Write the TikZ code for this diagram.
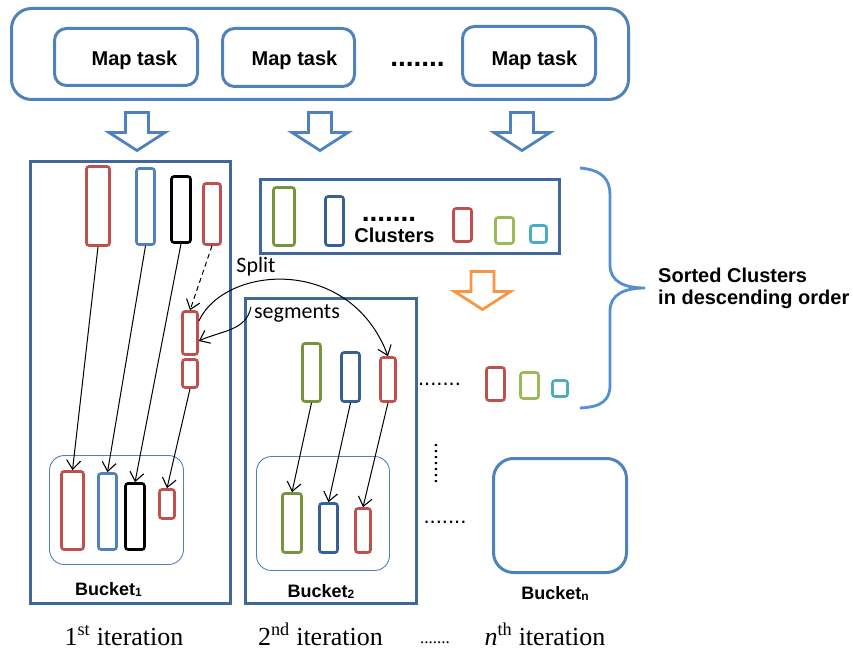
\documentclass[tikz,border=0pt]{standalone}
\usepackage{fontspec}
\setmainfont{Liberation Serif}
\newfontfamily\arial{Liberation Sans}
\newfontfamily\calib{Carlito}
\usetikzlibrary{arrows.meta}
\definecolor{mblue}{RGB}{79,129,189}
\definecolor{bktblue}{RGB}{65,104,155}
\definecolor{dblue}{RGB}{55,96,146}
\definecolor{cred}{RGB}{192,80,77}
\definecolor{olive}{RGB}{119,147,60}
\definecolor{lgreen}{RGB}{155,187,89}
\definecolor{ccyan}{RGB}{75,172,198}
\definecolor{corange}{RGB}{247,150,70}
\definecolor{brblue}{RGB}{85,142,213}
\newcommand\rr[6]{\node[cr=#2, minimum width=#5pt, minimum height=#6pt] (#1) at (#3,#4) {};}
\newcommand\bx[6]{\node[#2, minimum width=#5pt, minimum height=#6pt] (#1) at (#3,#4) {};}
\newcommand\sub[1]{{\fontsize{12}{12}\selectfont\raisebox{-1.5pt}{#1}}}
\begin{document}
\begin{tikzpicture}[x=1pt,y=-1pt,
  cr/.style={draw=#1,line width=2.6pt,rounded corners=2.5pt,inner sep=0pt,fill=white},
  bigbox/.style={draw=bktblue,line width=2.8pt,inner sep=0pt},
  topbox/.style={draw=mblue,line width=3pt,inner sep=0pt,rounded corners=#1},
  thinbox/.style={draw=mblue,line width=0.9pt,inner sep=0pt,rounded corners=15pt},
  ar/.style={-{Straight Barb[length=9pt,width=14pt,line width=1.1pt]},line width=1pt},
  lbl/.style={font=\arial\bfseries\fontsize{20}{24}\selectfont,inner sep=0pt,anchor=base},
  blbl/.style={font=\arial\bfseries\fontsize{18}{22}\selectfont,inner sep=0pt,anchor=base},
  dotsb/.style={font=\arial\bfseries\fontsize{28}{30}\selectfont,inner sep=0pt,anchor=base},
  dotsr/.style={font=\arial\fontsize{22}{24}\selectfont,inner sep=0pt,anchor=base},
  itl/.style={font=\fontsize{26}{30}\selectfont,inner sep=0pt,anchor=base},
  cal/.style={font=\calib\fontsize{22}{26}\selectfont,inner sep=0pt,anchor=base},
  harrow/.pic={\draw[line width=2.8pt,line join=miter,pic actions]
     (-11.5,0) -- (11.5,0) -- (11.5,20) -- (28,20) -- (0,38) -- (-28,20) -- (-11.5,20) -- cycle;}
]
\useasboundingbox (0,0) rectangle (853,652);

% top map tasks
\bx{outer}{topbox=20pt}{320}{54}{617}{91}
\bx{map1}{topbox=12pt}{126}{57}{143}{57}
\bx{map2}{topbox=12pt}{288.5}{57.5}{132}{58}
\bx{map3}{topbox=12pt}{529}{56}{133}{59}
\node[lbl] (mt1) at (134.5,65.5) {Map task};
\node[lbl] (mt2) at (294.5,65.5) {Map task};
\node[lbl] (mt3) at (534.5,65.5) {Map task};
\node[dotsb] (tdots) at (417.5,66.5) {.......};

\pic[draw=mblue] at (137,112.5) {harrow};
\pic[draw=mblue] at (320,112.5) {harrow};
\pic[draw=mblue] at (522,112.5) {harrow};

% bucket 1
\bx{bk1}{bigbox}{130.5}{382.5}{200}{442}
\bx{in1}{thinbox}{116.5}{510}{134}{109}
\rr{L1}{cred}{98}{206}{23}{79}
\rr{L2}{mblue}{145.5}{206.5}{18}{76}
\rr{L3}{black}{181}{209.5}{19}{66}
\rr{L4}{cred}{212}{214}{17}{61}
\rr{S1}{cred}{190}{333}{15}{43}
\rr{S2}{cred}{190}{373.5}{15}{28}
\rr{B1}{cred}{72.5}{510.5}{22}{78}
\rr{B2}{mblue}{107.5}{511.5}{18}{76}
\rr{B3}{black}{135}{516.5}{19}{66}
\rr{B4}{cred}{167}{504}{15}{29}
\draw[ar] (L1.south) -- (B1.north);
\draw[ar] (L2.south) -- (B2.north);
\draw[ar] (L3.south) -- (B3.north);
\draw[ar,dash pattern=on 5pt off 3.5pt] (L4.south) -- (S1.north);
\draw[ar] (S2.south) -- (B4.north);
\node[blbl] (bl1) at (108.5,595) {Bucket\sub{1}};

% clusters
\bx{clu}{bigbox}{410}{216.5}{299}{74}
\rr{C1}{olive}{284}{216.5}{21}{58}
\rr{C2}{dblue}{334.5}{221}{18}{49}
\rr{C3}{cred}{462.5}{225}{18}{33}
\rr{C4}{lgreen}{504.5}{230.5}{18}{26}
\rr{C5}{ccyan}{538.5}{234}{16}{17}
\node[dotsb] (cdots) at (389,221.5) {.......};
\node[lbl] (clt) at (394.5,242) {Clusters};
\pic[draw=corange] at (482.5,271.5) {harrow};

% bucket 2
\bx{bk2}{bigbox}{331}{451}{171}{305}
\bx{in2}{thinbox}{323}{513.5}{133}{114}
\rr{M1}{olive}{311.5}{372.5}{18}{58}
\rr{M2}{dblue}{350.5}{377}{18}{49}
\rr{M3}{cred}{388}{379.5}{15}{44}
\rr{N1}{olive}{292}{523}{19}{59}
\rr{N2}{dblue}{328.5}{528}{18}{49}
\rr{N3}{cred}{363}{530.5}{15}{44}
\draw[ar] (M1.south) -- (N1.north);
\draw[ar] (M2.south) -- (N2.north);
\draw[ar] (M3.south) -- (N3.north);
\node[blbl] (bl2) at (321,597) {Bucket\sub{2}};

% split / segments
\node[cal] (split) at (256,272) {Split};
\node[cal] (segs) at (297,318) {segments};
\draw[ar] ([yshift=12pt]S1.east) .. controls (225,265) and (350,255) .. (M3.north);
\draw[ar] ([xshift=-3pt,yshift=6pt]segs.west) to[out=-100,in=25] ([yshift=-8pt]S1.east);

% remaining clusters
\rr{R1}{cred}{495.5}{384}{18}{33}
\rr{R2}{lgreen}{529.5}{385.5}{18}{26}
\rr{R3}{ccyan}{560}{388.5}{15}{16}
\node[dotsr] (hd1) at (439.5,385) {.......};
\node[dotsr,rotate=-90,anchor=center] (vd) at (436,463.5) {.......};
\node[dotsr] (hd2) at (445,523) {.......};

% bucket n
\bx{bkn}{topbox=20pt}{560}{515.5}{133}{114}
\node[blbl] (bln) at (555,599) {Bucket\sub{n}};

% brace
\draw[brblue,line width=2.8pt] (580,168) .. controls (603,170) and (610,180) .. (610,195)
  -- (610,265) .. controls (610,282) and (625,288) .. (645,288)
  .. controls (625,288) and (610,294) .. (610,311)
  -- (610,385) .. controls (610,400) and (602,407) .. (580,408);
\node[lbl,anchor=base west] (sc1) at (658,282) {Sorted Clusters};
\node[lbl,anchor=base west] (sc2) at (658,304) {in descending order};

% iterations
\node[itl] (it1) at (124,645) {1\textsuperscript{st} iteration};
\node[itl] (it2) at (320.5,645) {2\textsuperscript{nd} iteration};
\node[font=\fontsize{17}{20}\selectfont,inner sep=0pt,anchor=base] (itd) at (435,643) {.......};
\node[itl] (itn) at (545,645) {\textit{n}\textsuperscript{th} iteration};
\end{tikzpicture}
\end{document}
